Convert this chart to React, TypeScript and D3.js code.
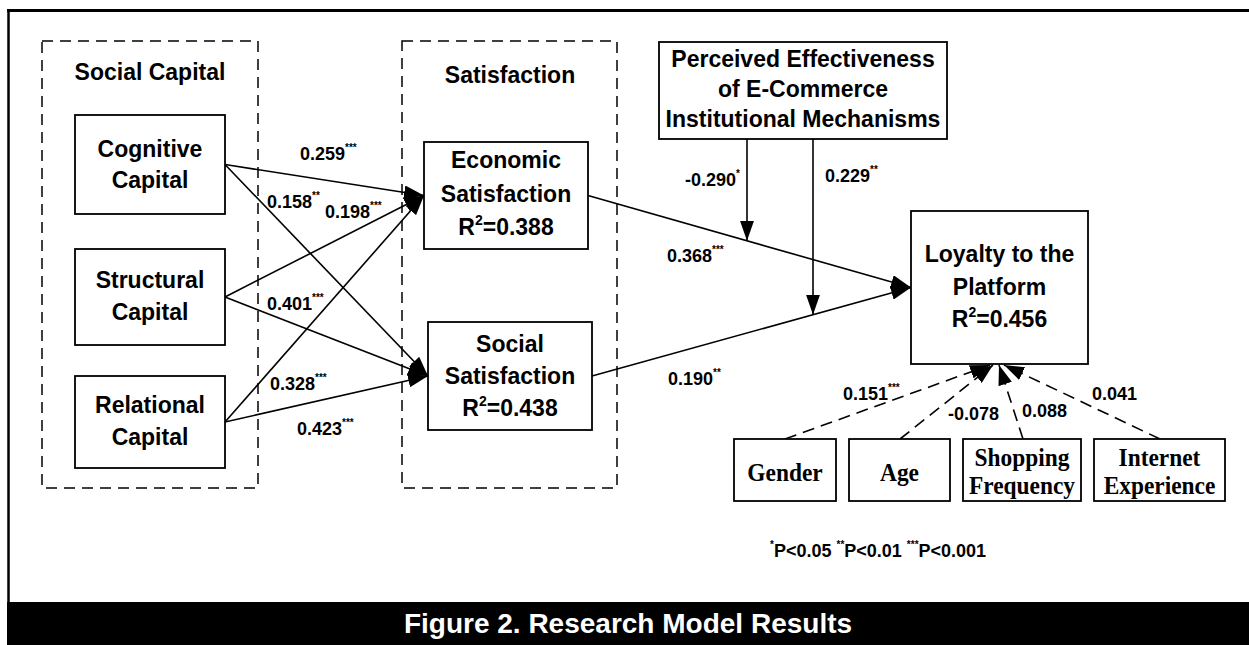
import * as d3 from 'd3'

const SANS = "'Liberation Sans', Arial, Helvetica, sans-serif"
const SERIF = "'Liberation Serif', 'Times New Roman', serif"

// * Constructs
const groupTitles = ['Social Capital', 'Satisfaction']
const capitalNames = [['Cognitive', 'Capital'], ['Structural', 'Capital'], ['Relational', 'Capital']]
const satisfactionNames = [['Economic', 'Satisfaction'], ['Social', 'Satisfaction']]
const satisfactionR2 = ['0.388', '0.438']
const loyaltyName = ['Loyalty to the', 'Platform']
const loyaltyR2 = '0.456'
const moderatorName = ['Perceived Effectiveness', 'of E-Commerce', 'Institutional Mechanisms']
const controlNames = [['Gender'], ['Age'], ['Shopping', 'Frequency'], ['Internet', 'Experience']]

// * Path coefficients (capital rows: cognitive, structural, relational)
const toEconomic = ['0.259', '0.198', '0.328']
const toEconomicSig = ['***', '***', '***']
const toSocial = ['0.158', '0.401', '0.423']
const toSocialSig = ['**', '***', '***']
const toLoyalty = ['0.368', '0.190']
const toLoyaltySig = ['***', '**']
const moderation = ['-0.290', '0.229']
const moderationSig = ['*', '**']
const controlCoef = ['0.151', '-0.078', '0.088', '0.041']
const controlSig = ['***', '', '', '']
const pLevels = [['*', 'P<0.05'], ['**', 'P<0.01'], ['***', 'P<0.001']]
const caption = 'Figure 2. Research Model Results'

// * Layout
type Box = { x: number; y: number; w: number; h: number }
const groupBoxes: Box[] = [
  { x: 42, y: 41, w: 216, h: 447 },
  { x: 402, y: 41, w: 215, h: 447 },
]
const groupTitlePos = [[150, 80], [510, 83]]
const capBoxes: Box[] = [
  { x: 75, y: 115, w: 150, h: 99 },
  { x: 75, y: 249, w: 150, h: 96 },
  { x: 75, y: 376, w: 150, h: 92 },
]
const capBaselines = [[157, 188], [288, 320], [413, 445]]
const satBoxes: Box[] = [
  { x: 424, y: 142, w: 164, h: 107 },
  { x: 428, y: 322, w: 164, h: 108 },
]
const satBaselines = [[168, 202, 235], [352, 384, 416]]
const loyBox: Box = { x: 911, y: 211, w: 177, h: 153 }
const loyBaselines = [262, 295, 327]
const modBox: Box = { x: 659, y: 42, w: 288, h: 97 }
const modBaselines = [67, 97, 127]
const modX = [747, 813]
const ctrlBoxes: Box[] = [
  { x: 734, y: 439, w: 102, h: 62 },
  { x: 849, y: 439, w: 101, h: 62 },
  { x: 963, y: 439, w: 118, h: 62 },
  { x: 1094, y: 439, w: 131, h: 62 },
]
const ctrlBaselines = [[481], [481], [466, 494], [466, 494]]
const ctrlStartX = [785, 900, 1023, 1160]
const ctrlEndX = [990, 993, 999, 1004]

const econLabelPos = [[300, 160], [325, 218], [270, 390]]
const socLabelPos = [[267, 208], [267, 310], [297, 435]]
const loyLabelPos = [[667, 262], [668, 385]]
const modLabelPos = [[685, 186], [825, 182]]
const ctrlLabelPos = [[843, 400], [948, 420], [1022, 417], [1092, 400]]

const right = (b: Box): [number, number] => [b.x + b.w, b.y + b.h / 2]
const left = (b: Box): [number, number] => [b.x, b.y + b.h / 2]
const line = d3.line()

function Coef({ x, y, value, sig, size = 18 }: { x: number; y: number; value: string; sig: string; size?: number }) {
  return (
    <text x={x} y={y} fontFamily={SANS} fontWeight="bold" fontSize={size} fill="#000">
      {value}
      {sig ? <tspan fontSize={10} dy={-9}>{sig}</tspan> : null}
    </text>
  )
}

function BoxText({ box, lines, baselines, r2 }: { box: Box; lines: string[]; baselines: number[]; r2?: string }) {
  const cx = box.x + box.w / 2
  return (
    <g fontFamily={SANS} fontWeight="bold" fontSize={23} textAnchor="middle">
      {lines.map((l, i) => (
        <text key={i} x={cx} y={baselines[i]}>{l}</text>
      ))}
      {r2 ? (
        <text x={cx} y={baselines[lines.length]}>
          R<tspan fontSize={14} dy={-10}>2</tspan><tspan dy={10}>={r2}</tspan>
        </text>
      ) : null}
    </g>
  )
}

export default function App() {
  const econ = satBoxes[0]
  const soc = satBoxes[1]
  const loyTarget = left(loyBox)
  const satToLoy = satBoxes.map((b) => [right(b), loyTarget] as [number, number][])
  // * where the moderator arrows meet the satisfaction -> loyalty paths
  const modTargets = modX.map((x, i) => {
    const [a, b] = satToLoy[i]
    const y = d3.scaleLinear().domain([a[0], b[0]]).range([a[1], b[1]])(x)
    return [[x, modBox.y + modBox.h], [x, y]] as [number, number][]
  })
  const capEdges: { pts: [number, number][]; v: string; s: string; pos: number[] }[] = []
  capBoxes.forEach((b, i) => {
    capEdges.push({ pts: [right(b), left(econ)], v: toEconomic[i], s: toEconomicSig[i], pos: econLabelPos[i] })
    capEdges.push({ pts: [right(b), left(soc)], v: toSocial[i], s: toSocialSig[i], pos: socLabelPos[i] })
  })
  const loyBottom = loyBox.y + loyBox.h + 1

  return (
    <svg width={1249} height={645} style={{ position: 'absolute', left: 0, top: 0, background: '#fff' }}>
      <defs>
        <marker id="arrow" viewBox="0 0 20 14" refX={20} refY={7} markerWidth={20} markerHeight={14} markerUnits="userSpaceOnUse" orient="auto">
          <path d="M0,0 L20,7 L0,14 Z" fill="#000" />
        </marker>
      </defs>
      <rect width={1249} height={645} fill="#fff" />

      {/* frame */}
      <line x1={7} x2={1249} y1={10.5} y2={10.5} stroke="#000" strokeWidth={3} />
      <line x1={8.5} x2={8.5} y1={9} y2={645} stroke="#000" strokeWidth={2.5} />

      {/* dashed groups */}
      {groupBoxes.map((b, i) => (
        <g key={i}>
          <rect x={b.x} y={b.y} width={b.w} height={b.h} fill="none" stroke="#000" strokeWidth={1.5} strokeDasharray="11 7" />
          <text x={groupTitlePos[i][0]} y={groupTitlePos[i][1]} textAnchor="middle" fontFamily={SANS} fontWeight="bold" fontSize={23}>{groupTitles[i]}</text>
        </g>
      ))}

      {/* edges */}
      {capEdges.map((e, i) => (
        <path key={i} d={line(e.pts)!} stroke="#000" strokeWidth={1.6} fill="none" markerEnd="url(#arrow)" />
      ))}
      {satToLoy.map((p, i) => (
        <path key={i} d={line(p)!} stroke="#000" strokeWidth={1.6} fill="none" markerEnd="url(#arrow)" />
      ))}
      {modTargets.map((p, i) => (
        <path key={i} d={line(p)!} stroke="#000" strokeWidth={1.6} fill="none" markerEnd="url(#arrow)" />
      ))}
      {ctrlBoxes.map((b, i) => (
        <path key={i} d={line([[ctrlStartX[i], b.y], [ctrlEndX[i], loyBottom]])!} stroke="#000" strokeWidth={1.6} strokeDasharray="12 7" fill="none" markerEnd="url(#arrow)" />
      ))}

      {/* boxes */}
      {capBoxes.map((b, i) => (
        <g key={i}>
          <rect x={b.x} y={b.y} width={b.w} height={b.h} fill="#fff" stroke="#000" strokeWidth={1.8} />
          <BoxText box={b} lines={capitalNames[i]} baselines={capBaselines[i]} />
        </g>
      ))}
      {satBoxes.map((b, i) => (
        <g key={i}>
          <rect x={b.x} y={b.y} width={b.w} height={b.h} fill="#fff" stroke="#000" strokeWidth={1.8} />
          <BoxText box={b} lines={satisfactionNames[i]} baselines={satBaselines[i]} r2={satisfactionR2[i]} />
        </g>
      ))}
      <rect x={loyBox.x} y={loyBox.y} width={loyBox.w} height={loyBox.h} fill="#fff" stroke="#000" strokeWidth={1.8} />
      <BoxText box={loyBox} lines={loyaltyName} baselines={loyBaselines} r2={loyaltyR2} />
      <rect x={modBox.x} y={modBox.y} width={modBox.w} height={modBox.h} fill="#fff" stroke="#000" strokeWidth={1.8} />
      <BoxText box={modBox} lines={moderatorName} baselines={modBaselines} />
      {ctrlBoxes.map((b, i) => (
        <g key={i}>
          <rect x={b.x} y={b.y} width={b.w} height={b.h} fill="#fff" stroke="#000" strokeWidth={1.8} />
          {controlNames[i].map((l, j) => (
            <text key={j} transform={`translate(${b.x + b.w / 2},${ctrlBaselines[i][j]}) scale(0.9,1)`} textAnchor="middle" fontFamily={SERIF} fontWeight="bold" fontSize={26}>{l}</text>
          ))}
        </g>
      ))}

      {/* coefficients */}
      {capEdges.map((e, i) => (
        <Coef key={i} x={e.pos[0]} y={e.pos[1]} value={e.v} sig={e.s} />
      ))}
      {toLoyalty.map((v, i) => (
        <Coef key={i} x={loyLabelPos[i][0]} y={loyLabelPos[i][1]} value={v} sig={toLoyaltySig[i]} />
      ))}
      {moderation.map((v, i) => (
        <Coef key={i} x={modLabelPos[i][0]} y={modLabelPos[i][1]} value={v} sig={moderationSig[i]} />
      ))}
      {controlCoef.map((v, i) => (
        <Coef key={i} x={ctrlLabelPos[i][0]} y={ctrlLabelPos[i][1]} value={v} sig={controlSig[i]} />
      ))}

      {/* significance legend */}
      <text x={770} y={557} fontFamily={SANS} fontWeight="bold" fontSize={18}>
        {pLevels.map(([s, p], i) => (
          <tspan key={i}>
            <tspan fontSize={10} dy={-9}>{s}</tspan>
            <tspan dy={9}>{p}{i < pLevels.length - 1 ? ' ' : ''}</tspan>
          </tspan>
        ))}
      </text>

      {/* caption band */}
      <rect x={7} y={602} width={1242} height={43} fill="#000" />
      <text x={628} y={633} textAnchor="middle" fontFamily={SANS} fontWeight="bold" fontSize={28} fill="#fff">{caption}</text>
    </svg>
  )
}
